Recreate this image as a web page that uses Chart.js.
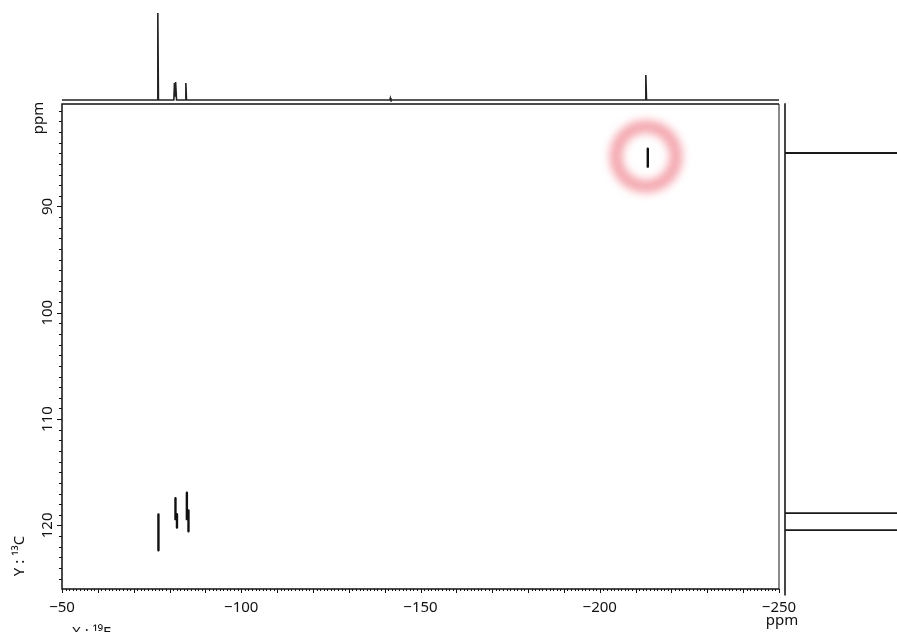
<!DOCTYPE html>
<html>
<head>
<meta charset="utf-8">
<script src="https://cdn.jsdelivr.net/npm/chart.js@4"></script>
<style>
  html, body { margin: 0; padding: 0; background: #fff; }
  #wrap { position: relative; width: 897px; height: 632px; overflow: hidden; }
  canvas { position: absolute; }
</style>
</head>
<body>
<div id="wrap">
  <canvas id="topChart" style="left:0;top:0" width="897" height="102"></canvas>
  <canvas id="rightChart" style="left:780px;top:0" width="117" height="632"></canvas>
  <canvas id="mainChart" style="left:0;top:0" width="897" height="632"></canvas>
</div>
<script>
// axis ranges (ppm)
const fRange = [-250, -50];
const cRange = [80.37, 125.98];
const fTickLabels = [-50, -100, -150, -200, -250];
const cTickLabels = [90, 100, 110, 120];

// 2D cross peaks: one vertical stroke per entry
const peakF = [-76.9, -81.65, -82.07, -84.83, -85.28, -213.4];
const peakCStart = [118.97, 117.45, 118.94, 116.92, 118.6, 84.58];
const peakCEnd = [122.34, 119.41, 120.19, 119.41, 120.56, 86.26];

// highlighted peak (ring)
const ringF = -212.9;
const ringC = 85.3;

// 19F projection (top)
const projFppm = [-50, -76.55, -76.73, -76.9, -81.2, -81.37, -81.55, -81.62, -81.76, -81.95, -84.38, -84.55, -84.72, -141.45, -141.6, -141.75, -212.65, -212.85, -213.05, -250];
const projFint = [0, 0, 87, 0, 0, 17, 4, 6, 18, 0, 0, 17, 0, 0, 2, 0, 0, 25, 0, 0];

// 13C projection (right)
const projCppm = [80.3, 84.94, 84.95, 84.96, 118.59, 118.6, 118.61, 120.18, 120.19, 120.2, 126.3];
const projCint = [0, 0, 400, 0, 0, 400, 0, 0, 400, 0, 0];

const FONT = '"Noto Sans", "DejaVu Sans", sans-serif';

const blurPlugin = {
  id: 'blurRing',
  beforeDatasetDraw(chart, args) {
    if (chart.data.datasets[args.index].blur) {
      chart.ctx.save();
      chart.ctx.filter = 'blur(4.5px)';
    }
  },
  afterDatasetDraw(chart, args) {
    if (chart.data.datasets[args.index].blur) chart.ctx.restore();
  }
};

const axesPlugin = {
  id: 'nmrAxes',
  afterDraw(chart) {
    const { ctx, chartArea: a, scales: { x, y } } = chart;
    ctx.save();
    // right frame edge (grey)
    ctx.strokeStyle = '#8a8a8a';
    ctx.lineWidth = 2;
    ctx.beginPath();
    ctx.moveTo(a.right, a.top);
    ctx.lineTo(a.right, a.bottom);
    ctx.stroke();
    // top frame + axis lines
    ctx.strokeStyle = '#111';
    ctx.lineWidth = 1.5;
    ctx.beginPath();
    ctx.moveTo(a.right, a.top);
    ctx.lineTo(a.left, a.top);
    ctx.lineTo(a.left, a.bottom);
    ctx.lineTo(a.right, a.bottom);
    ctx.stroke();

    // x ticks every 1 ppm
    ctx.lineWidth = 1;
    ctx.beginPath();
    for (let v = -50; v >= -250; v--) {
      const px = Math.round(x.getPixelForValue(v)) + 0.5;
      const len = v % 10 === 0 ? 4 : 2;
      ctx.moveTo(px, a.bottom);
      ctx.lineTo(px, a.bottom + len);
    }
    // y ticks every 1 ppm
    for (let v = 81; v <= 125; v++) {
      const py = Math.round(y.getPixelForValue(v)) + 0.5;
      const len = v % 10 === 0 ? 5 : 3;
      ctx.moveTo(a.left, py);
      ctx.lineTo(a.left - len, py);
    }
    ctx.stroke();

    ctx.fillStyle = '#111';
    ctx.font = '15px ' + FONT;
    ctx.textBaseline = 'alphabetic';
    ctx.textAlign = 'center';
    fTickLabels.forEach(v => {
      ctx.fillText('\u2212' + Math.abs(v), x.getPixelForValue(v), 612);
    });
    ctx.fillText('ppm', 782, 625);
    ctx.textAlign = 'left';
    ctx.fillText('X : \u00B9\u2079F', 72, 637);

    cTickLabels.forEach(v => {
      ctx.save();
      ctx.translate(51.5, y.getPixelForValue(v));
      ctx.rotate(-Math.PI / 2);
      ctx.textAlign = 'center';
      ctx.fillText(String(v), 0, 0);
      ctx.restore();
    });
    ctx.save();
    ctx.translate(43, 118);
    ctx.rotate(-Math.PI / 2);
    ctx.textAlign = 'center';
    ctx.fillText('ppm', 0, 0);
    ctx.restore();
    ctx.save();
    ctx.translate(24, 556);
    ctx.rotate(-Math.PI / 2);
    ctx.textAlign = 'center';
    ctx.fillText('Y : \u00B9\u00B3C', 0, 0);
    ctx.restore();

    ctx.restore();
  }
};

const common = {
  responsive: false,
  animation: false,
  events: [],
  plugins: { legend: { display: false }, tooltip: { enabled: false } }
};

// main 2D map
const peakSets = peakF.map((f, i) => ({
  data: [{ x: f, y: peakCStart[i] }, { x: f, y: peakCEnd[i] }],
  showLine: true,
  borderColor: '#111',
  borderWidth: 2.4,
  borderCapStyle: 'round',
  pointRadius: 0
}));

new Chart(document.getElementById('mainChart'), {
  type: 'scatter',
  data: {
    datasets: [{
      data: [{ x: ringF, y: ringC }],
      blur: true,
      pointRadius: 30,
      pointBorderWidth: 13,
      pointBackgroundColor: 'rgba(0,0,0,0)',
      pointBorderColor: 'rgba(236,110,122,0.6)',
      order: 10
    }].concat(peakSets)
  },
  options: Object.assign({}, common, {
    layout: { padding: { left: 62, right: 118, top: 104, bottom: 40 } },
    scales: {
      x: { type: 'linear', display: false, min: fRange[0], max: fRange[1], reverse: true },
      y: { type: 'linear', display: false, min: cRange[0], max: cRange[1], reverse: true }
    }
  }),
  plugins: [blurPlugin, axesPlugin]
});

// top projection (19F)
new Chart(document.getElementById('topChart'), {
  type: 'scatter',
  data: {
    datasets: [{
      data: projFppm.map((p, i) => ({ x: p, y: projFint[i] })),
      showLine: true,
      borderColor: '#222',
      borderWidth: 1.6,
      pointRadius: 0,
      clip: false
    }]
  },
  options: Object.assign({}, common, {
    layout: { padding: { left: 62, right: 118, top: 10, bottom: 2 } },
    scales: {
      x: { type: 'linear', display: false, min: fRange[0], max: fRange[1], reverse: true },
      y: { type: 'linear', display: false, min: 0, max: 90 }
    }
  })
});

// right projection (13C)
new Chart(document.getElementById('rightChart'), {
  type: 'scatter',
  data: {
    datasets: [{
      data: projCppm.map((p, i) => ({ x: projCint[i], y: p })),
      showLine: true,
      borderColor: '#1a1a1a',
      borderWidth: 1.6,
      pointRadius: 0,
      clip: false
    }]
  },
  options: Object.assign({}, common, {
    layout: { padding: { left: 5, right: 0, top: 104, bottom: 40 } },
    scales: {
      x: { type: 'linear', display: false, min: 0, max: 100 },
      y: { type: 'linear', display: false, min: cRange[0], max: cRange[1], reverse: true }
    }
  })
});
</script>
</body>
</html>
